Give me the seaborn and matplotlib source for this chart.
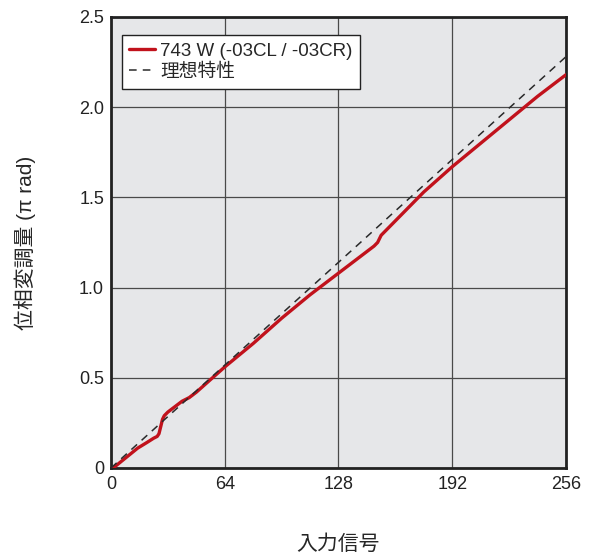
import numpy as np
import pandas as pd
import seaborn as sns
import matplotlib.pyplot as plt

signal = [0, 5, 10, 15, 20, 24, 26, 27, 28, 29, 30, 32, 36, 40, 44, 48, 56, 64,
          80, 96, 112, 128, 140, 148, 150, 152, 156, 160, 168, 176, 184, 192,
          208, 224, 240, 256]
phase = [-0.01, 0.03, 0.07, 0.11, 0.14, 0.165, 0.175, 0.19, 0.23, 0.27, 0.29,
         0.31, 0.34, 0.37, 0.39, 0.42, 0.49, 0.56, 0.69, 0.83, 0.96, 1.08,
         1.17, 1.23, 1.25, 1.29, 1.33, 1.37, 1.45, 1.53, 1.60, 1.67, 1.80,
         1.93, 2.06, 2.18]

# ideal characteristic
ideal_x = [0, 256]
ideal_y = [0, 2.28]

x_ticks = [0, 64, 128, 192, 256]
y_ticks = [0, 0.5, 1.0, 1.5, 2.0, 2.5]
y_tick_labels = ["0", "0.5", "1.0", "1.5", "2.0", "2.5"]

sns.set_style("white")
plt.rcParams['font.family'] = ['Liberation Sans', 'Noto Sans CJK JP']

fig = plt.figure(figsize=(5.98, 5.55), dpi=100)
ax = fig.add_axes([0.1856, 0.1568, 0.7609, 0.8126])
ax.set_facecolor("#e6e7e9")

df = pd.DataFrame({"x": signal, "y": phase})
sns.lineplot(data=df, x="x", y="y", ax=ax, color="#c1121c", linewidth=2.4,
             label="743 W (-03CL / -03CR)", zorder=3)
sns.lineplot(x=ideal_x, y=ideal_y, ax=ax, color="#2a2a2a", linewidth=1.1,
             linestyle=(0, (5, 4)), label="理想特性", zorder=4)

ax.set_xlim(0, 256)
ax.set_ylim(0, 2.5)
ax.set_xticks(x_ticks)
ax.set_yticks(y_ticks)
ax.set_yticklabels(y_tick_labels)
ax.grid(True, color="#4a4a4a", linewidth=0.9)
ax.set_axisbelow(True)
ax.tick_params(length=0, labelsize=13, colors="#222222")
ax.tick_params(axis="x", pad=6)
ax.tick_params(axis="y", pad=5)
for s in ax.spines.values():
    s.set_linewidth(2)
    s.set_color("#222222")

ax.set_xlabel("入力信号", fontsize=15)
ax.set_ylabel("位相変調量 (π rad)", fontsize=15)
ax.xaxis.set_label_coords(0.5, -0.168)
ax.yaxis.set_label_coords(-0.189, 0.5)
ax.xaxis.label.set_va("center")
ax.yaxis.label.set_va("center")

leg = ax.legend(loc="upper left", bbox_to_anchor=(0.024, 0.960),
                borderaxespad=0, fontsize=13.5, frameon=True, fancybox=False,
                framealpha=1, edgecolor="#222222", borderpad=0.4,
                handlelength=1.35, handletextpad=0.3, labelspacing=0.22)
leg.get_frame().set_linewidth(1.0)

plt.savefig("out.png", dpi=100)
plt.close()
